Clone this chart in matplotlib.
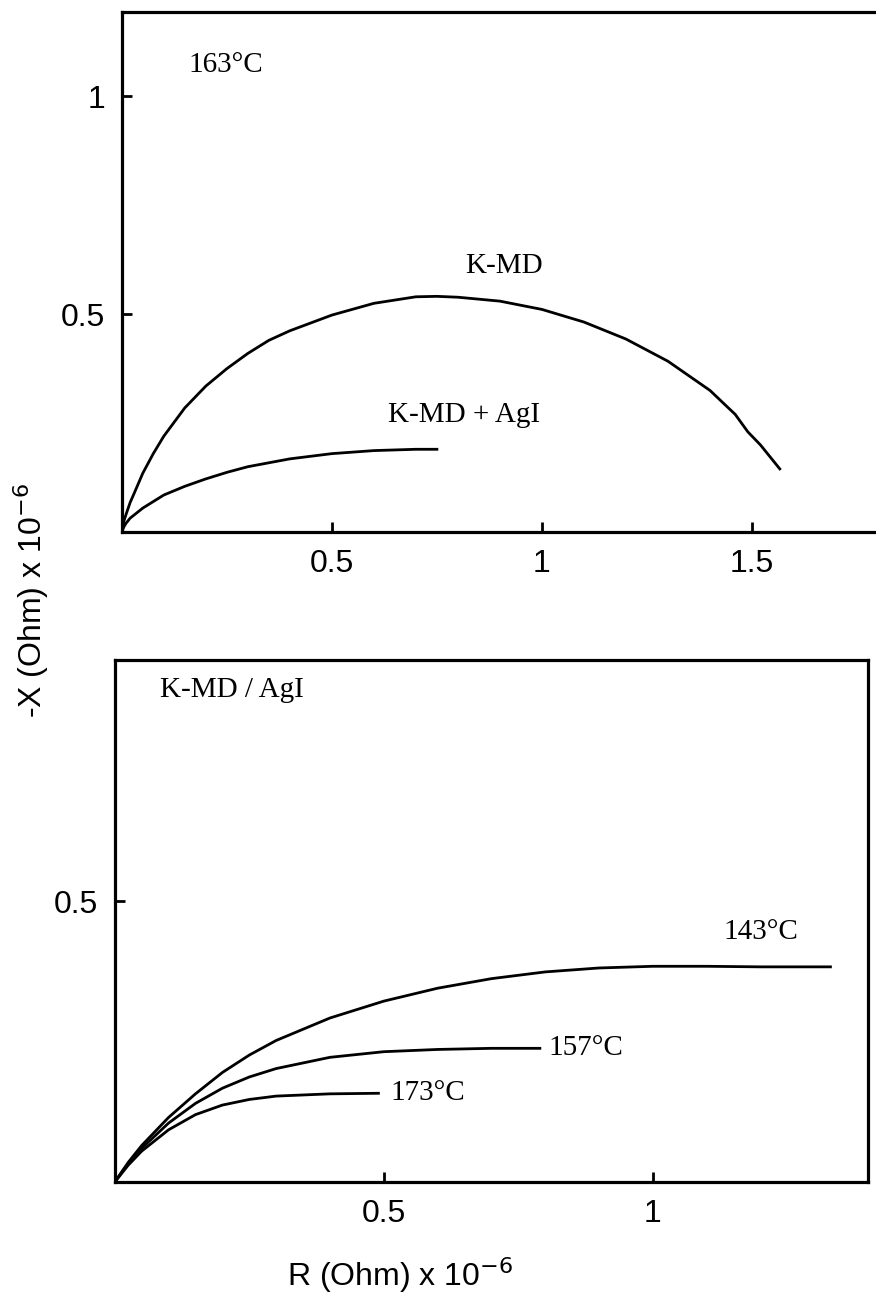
import numpy as np
import matplotlib.pyplot as plt

# top panel, 163 C
kmd_r = [0, 0.005, 0.01, 0.02, 0.03, 0.05, 0.075, 0.1, 0.15, 0.2, 0.25, 0.3, 0.35, 0.4, 0.5, 0.6,
         0.7, 0.75, 0.8, 0.9, 1.0, 1.1, 1.2, 1.3, 1.4, 1.46, 1.49, 1.52, 1.566]
kmd_x = [0, 0.025, 0.04, 0.068, 0.09, 0.135, 0.18, 0.22, 0.285, 0.335, 0.375, 0.41, 0.44, 0.462, 0.498, 0.525,
         0.54, 0.541, 0.539, 0.53, 0.511, 0.482, 0.443, 0.392, 0.325, 0.27, 0.23, 0.2, 0.145]
agi_r = [0, 0.005, 0.01, 0.02, 0.05, 0.1, 0.15, 0.2, 0.25, 0.3, 0.4, 0.5, 0.6, 0.7, 0.75]
agi_x = [0, 0.012, 0.02, 0.032, 0.055, 0.085, 0.105, 0.122, 0.137, 0.15, 0.168, 0.18, 0.187, 0.19, 0.19]

# bottom panel, K-MD / AgI at three temperatures
t143_r = [0, 0.025, 0.05, 0.1, 0.15, 0.2, 0.25, 0.3, 0.4, 0.5, 0.6, 0.7, 0.8, 0.9, 1.0, 1.1, 1.2, 1.33]
t143_x = [0, 0.035, 0.065, 0.115, 0.157, 0.195, 0.226, 0.252, 0.292, 0.322, 0.345, 0.362, 0.374, 0.381,
          0.384, 0.384, 0.383, 0.383]
t157_r = [0, 0.025, 0.05, 0.1, 0.15, 0.2, 0.25, 0.3, 0.4, 0.5, 0.6, 0.7, 0.79]
t157_x = [0, 0.033, 0.06, 0.105, 0.14, 0.167, 0.187, 0.202, 0.222, 0.232, 0.236, 0.238, 0.238]
t173_r = [0, 0.025, 0.05, 0.1, 0.15, 0.2, 0.25, 0.3, 0.4, 0.49]
t173_x = [0, 0.03, 0.055, 0.093, 0.12, 0.137, 0.147, 0.153, 0.157, 0.158]

serif = 'Liberation Serif'
sans = 'Liberation Sans'
lw = 2.0
fs = 21

fig = plt.figure(figsize=(8.76, 13.06), dpi=100)
ax1 = fig.add_axes([0.139, 0.5926, 0.861, 0.398])
ax2 = fig.add_axes([0.131, 0.0949, 0.860, 0.3997])

def style(ax):
    for s in ax.spines.values():
        s.set_linewidth(2.3)
    ax.tick_params(direction='in', length=7, width=2, labelsize=23, pad=12)
    for lab in ax.get_xticklabels() + ax.get_yticklabels():
        lab.set_family(sans)

# top
ax1.plot(kmd_r, kmd_x, color='black', lw=lw)
ax1.plot(agi_r, agi_x, color='black', lw=lw)
ax1.set_xlim(0, 1.795)
ax1.set_ylim(0, 1.193)
ax1.set_xticks([0.5, 1, 1.5], ['0.5', '1', '1.5'])
ax1.set_yticks([0.5, 1], ['0.5', '1'])
ax1.spines['right'].set_visible(False)
style(ax1)
ax1.text(0.248, 1.072, '163°C', family=serif, fontsize=fs, ha='center', va='center')
ax1.text(0.91, 0.61, 'K-MD', family=serif, fontsize=fs, ha='center', va='center')
ax1.text(0.815, 0.268, 'K-MD + AgI', family=serif, fontsize=fs, ha='center', va='center')

# bottom
ax2.plot(t143_r, t143_x, color='black', lw=lw)
ax2.plot(t157_r, t157_x, color='black', lw=lw)
ax2.plot(t173_r, t173_x, color='black', lw=lw)
ax2.set_xlim(0, 1.40)
ax2.set_ylim(0, 0.929)
ax2.set_xticks([0.5, 1], ['0.5', '1'])
ax2.set_yticks([0.5], ['0.5'])
style(ax2)
ax2.text(0.085, 0.875, 'K-MD / AgI', family=serif, fontsize=fs, ha='left', va='center')
ax2.text(1.20, 0.445, '143°C', family=serif, fontsize=fs, ha='center', va='center')
ax2.text(0.805, 0.238, '157°C', family=serif, fontsize=fs, ha='left', va='center')
ax2.text(0.513, 0.158, '173°C', family=serif, fontsize=fs, ha='left', va='center')

fig.text(0.035, 0.54, '-X (Ohm) x 10$^{-6}$', rotation=90, family=sans, fontsize=23,
         ha='center', va='center')
fig.text(0.456, 0.024, 'R (Ohm) x 10$^{-6}$', family=sans, fontsize=23,
         ha='center', va='center')

fig.savefig('out.png', dpi=100)
